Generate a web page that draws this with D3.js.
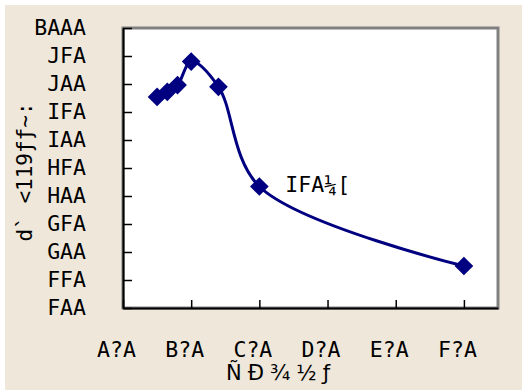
<!DOCTYPE html>
<html>
<head>
<meta charset="utf-8">
<script src="https://cdn.jsdelivr.net/npm/d3@7"></script>
<style>
  html, body { margin: 0; padding: 0; background: #ffffff; }
  svg { display: block; }
</style>
</head>
<body>
<svg id="chart" width="526" height="391"></svg>
<script>
// Series: sample measurements
const xValues = [0.5, 0.65, 0.8, 1.0, 1.4, 2.0, 5.0];
const yValues = [877, 886, 898, 940, 895, 717, 575];

// Axis ticks and their labels
const xTickValues = [0, 1, 2, 3, 4, 5];
const xTickLabels = ["A?A", "B?A", "C?A", "D?A", "E?A", "F?A"];
const yTickValues = [500, 550, 600, 650, 700, 750, 800, 850, 900, 950, 1000];
const yTickLabels = ["FAA", "FFA", "GAA", "GFA", "HAA", "HFA", "IAA", "IFA", "JAA", "JFA", "BAAA"];

// Titles and annotation
const xTitle = "ÑÐ¾½ƒ";
const yTitle = "d` <119ƒƒ~:";
const noteText = "IFA¼[";
const noteIndex = 5;

const monoFont = "'DejaVu Sans Mono', 'Liberation Mono', monospace";
const svg = d3.select("#chart");

// chart background panel
svg.append("rect")
  .attr("x", 5).attr("y", 5)
  .attr("width", 517).attr("height", 385)
  .attr("fill", "#EEE7DA");

const plot = { left: 123, top: 28, right: 498, bottom: 308 };

const x = d3.scaleLinear().domain([0, 5.5]).range([plot.left, plot.right]);
const y = d3.scaleLinear().domain([500, 1000]).range([plot.bottom, plot.top]);

// plot area
svg.append("rect")
  .attr("x", plot.left).attr("y", plot.top)
  .attr("width", plot.right - plot.left).attr("height", plot.bottom - plot.top)
  .attr("fill", "#ffffff")
  .attr("stroke", "#808080")
  .attr("stroke-width", 3);

// y axis
const yAxis = d3.axisLeft(y)
  .tickValues(yTickValues)
  .tickFormat((d, i) => yTickLabels[i])
  .tickSizeInner(-9)
  .tickSizeOuter(0)
  .tickPadding(37);

const gy = svg.append("g")
  .attr("transform", `translate(${plot.left},0)`)
  .call(yAxis);
gy.select(".domain").attr("stroke", "#000").attr("stroke-width", 2);
gy.selectAll(".tick line").attr("stroke", "#000").attr("stroke-width", 1.5);
gy.selectAll(".tick text")
  .attr("font-family", monoFont)
  .attr("font-size", 21.5)
  .attr("fill", "#000");

// x axis
const xAxis = d3.axisBottom(x)
  .tickValues(xTickValues)
  .tickFormat((d, i) => xTickLabels[i])
  .tickSizeInner(-8)
  .tickSizeOuter(0);

const gx = svg.append("g")
  .attr("transform", `translate(0,${plot.bottom})`)
  .call(xAxis);
gx.select(".domain").attr("stroke", "#000").attr("stroke-width", 2);
gx.selectAll(".tick line").attr("stroke", "#000").attr("stroke-width", 1.5);
gx.selectAll(".tick text")
  .attr("font-family", monoFont)
  .attr("font-size", 21.5)
  .attr("fill", "#000")
  .attr("x", -7)
  .attr("y", 49)
  .attr("dy", 0);

// axis titles
svg.append("text")
  .attr("x", 281).attr("y", 380)
  .attr("text-anchor", "middle")
  .attr("font-family", "'DejaVu Sans', sans-serif")
  .attr("font-size", 21)
  .attr("letter-spacing", 6)
  .attr("fill", "#000")
  .text(xTitle);

svg.append("text")
  .attr("transform", "translate(32,172) rotate(-90)")
  .attr("text-anchor", "middle")
  .attr("font-family", monoFont)
  .attr("font-size", 21)
  .attr("fill", "#000")
  .text(yTitle);

// smoothed line through the samples
const pts = xValues.map((v, i) => [v, yValues[i]]);
const line = d3.line()
  .x(d => x(d[0]))
  .y(d => y(d[1]))
  .curve(d3.curveCatmullRom.alpha(0.5));

svg.append("path")
  .datum(pts)
  .attr("d", line)
  .attr("fill", "none")
  .attr("stroke", "#000080")
  .attr("stroke-width", 3);

// diamond markers
svg.selectAll("path.marker")
  .data(pts)
  .join("path")
  .attr("class", "marker")
  .attr("d", d3.symbol(d3.symbolSquare, 175)())
  .attr("transform", d => `translate(${x(d[0])},${y(d[1])}) rotate(45)`)
  .attr("fill", "#000080");

// annotation next to the 2.0 sample
svg.append("text")
  .attr("x", x(xValues[noteIndex]) + 26)
  .attr("y", y(yValues[noteIndex]) + 6)
  .attr("font-family", monoFont)
  .attr("font-size", 21.5)
  .attr("fill", "#000")
  .text(noteText);
</script>
</body>
</html>
